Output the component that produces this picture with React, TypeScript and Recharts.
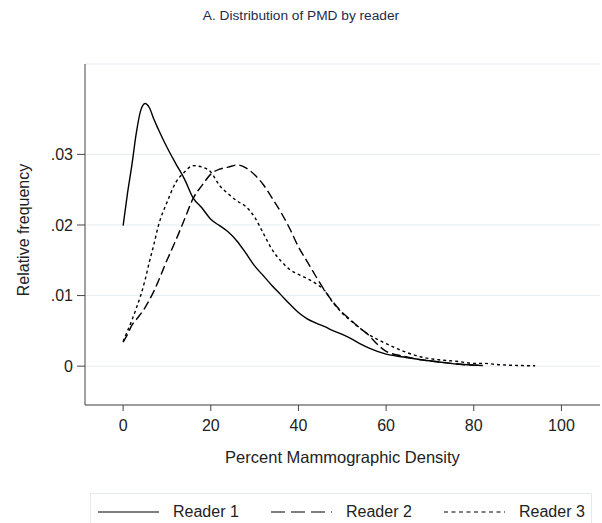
import { LineChart, Line, XAxis, YAxis, CartesianGrid } from "recharts";

// Percent mammographic density grid (x) and kernel density per reader
const density = [
  0, 1, 2, 3, 4, 5, 6, 7, 8, 10, 12, 14, 16, 18, 20, 22, 24, 26, 28, 30, 32, 34, 36, 38, 40,
  42, 44, 46, 48, 50, 52, 54, 56, 58, 60, 64, 68, 72, 76, 80, 82, 86, 90, 94,
];
const reader1 = [
  0.0199, 0.0245, 0.0285, 0.033, 0.0362, 0.0372, 0.0366, 0.035, 0.0336, 0.031, 0.0287, 0.0265,
  0.0238, 0.0224, 0.0208, 0.0199, 0.019, 0.0177, 0.016, 0.0142, 0.0128, 0.0114, 0.0101, 0.0088,
  0.0076, 0.0067, 0.0061, 0.0056, 0.005, 0.0045, 0.0039, 0.0032, 0.0026, 0.0021, 0.0017, 0.0013,
  0.0009, 0.0006, 0.0003, 0.00015, 0.0001, null, null, null,
];
const reader2 = [
  0.0034, 0.0045, 0.0058, 0.0066, 0.0074, 0.0083, 0.0094, 0.0106, 0.012, 0.015, 0.0178, 0.0208,
  0.0238, 0.0256, 0.0272, 0.0279, 0.0282, 0.0285, 0.0281, 0.0271, 0.0257, 0.0238, 0.0218,
  0.0195, 0.0169, 0.0148, 0.0127, 0.0107, 0.009, 0.0076, 0.0065, 0.0054, 0.0044, 0.0031, 0.0021,
  0.0014, 0.0009, 0.0006, 0.0003, 0.00015, 0.0001, null, null, null,
];
const reader3 = [
  0.0035, 0.005, 0.0065, 0.0082, 0.01, 0.0122, 0.0148, 0.0172, 0.0198, 0.0232, 0.026, 0.0275,
  0.0284, 0.0282, 0.0275, 0.0256, 0.0244, 0.0234, 0.0226, 0.0211, 0.0188, 0.0165, 0.0149,
  0.0137, 0.013, 0.0124, 0.0117, 0.0107, 0.0089, 0.0075, 0.0064, 0.0054, 0.0045, 0.0038, 0.0032,
  0.0021, 0.0013, 0.0009, 0.0007, 0.0004, 0.0004, 0.0002, 0.0001, 0.00005,
];
const xTicks = [0, 20, 40, 60, 80, 100];
const yTicks = [0, 0.01, 0.02, 0.03];

const data = density.map((x, i) => ({
  x,
  r1: reader1[i],
  r2: reader2[i],
  r3: reader3[i],
}));

const font = "'Liberation Sans', Arial, Helvetica, sans-serif";

const series = [
  { key: "r1", name: "Reader 1", dash: undefined, legendDash: undefined },
  { key: "r2", name: "Reader 2", dash: "9 4", legendDash: "14 6" },
  { key: "r3", name: "Reader 3", dash: "3 3", legendDash: "4 3.5" },
];

const fmtY = (v: number) => (v === 0 ? "0" : v.toFixed(2).replace(/^0/, ""));

export default function App() {
  return (
    <div
      style={{
        position: "absolute",
        left: 0,
        top: 0,
        width: 602,
        height: 523,
        background: "#fff",
        fontFamily: font,
        overflow: "hidden",
      }}
    >
      <div
        style={{
          position: "absolute",
          top: 8,
          left: 0,
          width: 602,
          textAlign: "center",
          fontSize: 13.7,
          color: "#1e2b4b",
        }}
      >
        A. Distribution of PMD by reader
      </div>

      <LineChart
        width={602}
        height={440}
        data={data}
        margin={{ top: 64, right: 2, left: 0, bottom: 0 }}
        style={{ position: "absolute", left: 0, top: 0 }}
      >
        <CartesianGrid vertical={false} stroke="#e5edf1" />
        <XAxis
          dataKey="x"
          type="number"
          domain={[-8.7, 108.8]}
          ticks={xTicks}
          allowDataOverflow
          height={35}
          stroke="#444"
          tickSize={6}
          tickMargin={9}
          tick={{ fill: "#222", fontSize: 16, fontFamily: font }}
        />
        <YAxis
          type="number"
          domain={[-0.0055, 0.0428]}
          ticks={yTicks}
          allowDataOverflow
          width={85}
          stroke="#444"
          tickSize={8}
          tickMargin={4}
          tickFormatter={fmtY}
          tick={{ fill: "#222", fontSize: 16, fontFamily: font }}
        />
        {series.map((s) => (
          <Line
            key={s.key}
            dataKey={s.key}
            name={s.name}
            type="monotone"
            stroke="#000"
            strokeWidth={1.4}
            strokeDasharray={s.dash}
            dot={false}
            connectNulls={false}
            isAnimationActive={false}
          />
        ))}
      </LineChart>

      <div
        style={{
          position: "absolute",
          left: 4,
          top: 175,
          width: 40,
          height: 110,
          display: "flex",
          alignItems: "center",
          justifyContent: "center",
        }}
      >
        <div
          style={{
            transform: "rotate(-90deg)",
            whiteSpace: "nowrap",
            fontSize: 16,
            color: "#222",
          }}
        >
          Relative frequency
        </div>
      </div>

      <div
        style={{
          position: "absolute",
          top: 448,
          left: 85,
          width: 515,
          textAlign: "center",
          fontSize: 16.5,
          color: "#222",
        }}
      >
        Percent Mammographic Density
      </div>

      <div
        style={{
          position: "absolute",
          left: 90,
          top: 493,
          width: 502,
          height: 40,
          border: "1px solid #e3eaee",
          boxSizing: "border-box",
        }}
      >
        {series.map((s, i) => (
          <div
            key={s.key}
            style={{
              position: "absolute",
              left: 7 + i * 173,
              top: 9,
              display: "flex",
              alignItems: "center",
              fontSize: 16,
              color: "#222",
            }}
          >
            <svg width={61} height={10} style={{ marginRight: 14 }}>
              <line
                x1={0}
                y1={5}
                x2={61}
                y2={5}
                stroke="#000"
                strokeWidth={1.2}
                strokeDasharray={s.legendDash}
              />
            </svg>
            {s.name}
          </div>
        ))}
      </div>
    </div>
  );
}
